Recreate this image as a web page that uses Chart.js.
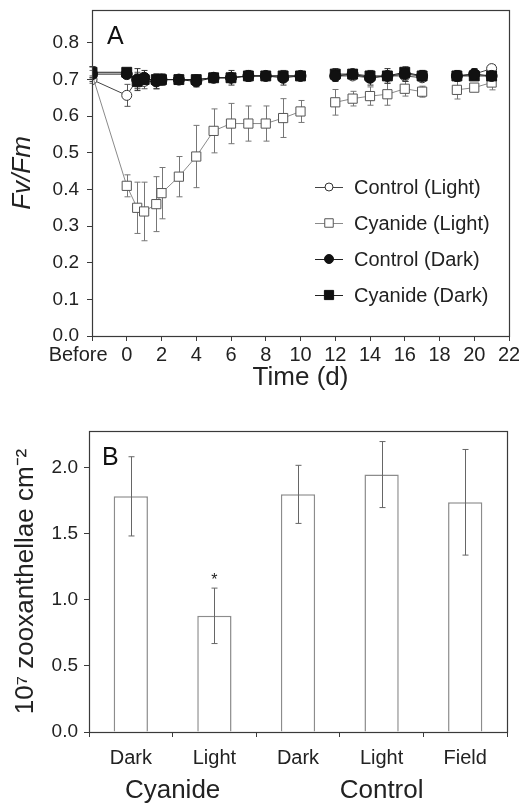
<!DOCTYPE html>
<html><head><meta charset="utf-8">
<script src="https://cdn.jsdelivr.net/npm/chart.js@4"></script>
<style>
html,body{margin:0;padding:0;background:#fff;}
#wrapA{position:absolute;left:0;top:0;width:519px;height:395px;}
#wrapB{position:absolute;left:0;top:400px;width:519px;height:405px;}
canvas{display:block;}
</style></head><body>
<div id="wrapA"><canvas id="cA" width="519" height="395"></canvas></div>
<div id="wrapB"><canvas id="cB" width="519" height="405"></canvas></div>
<script>
// ---------- Panel A data ----------
// time in days; -2 stands for "Before"; 11 and 18 are gaps (no measurements)
const timeDays = [-2, 0, 0.6, 1, 1.7, 2, 3, 4, 5, 6, 7, 8, 9, 10, 11, 12, 13, 14, 15, 16, 17, 18, 19, 20, 21];
const controlLight    = [0.700, 0.657, 0.700, 0.695, 0.695, 0.700, 0.700, 0.700, 0.705, 0.705, 0.710, 0.710, 0.710, 0.710, null, 0.710, 0.710, 0.705, 0.710, 0.710, 0.705, null, 0.710, 0.715, 0.730];
const controlLightErr = [0.010, 0.030, 0.020, 0.020, 0.020, 0.015, 0.010, 0.010, 0.010, 0.010, 0.010, 0.010, 0.010, 0.010, null, 0.010, 0.010, 0.010, 0.010, 0.010, 0.010, null, 0.010, 0.010, 0.010];
const cyanideLight    = [0.715, 0.410, 0.350, 0.340, 0.360, 0.390, 0.435, 0.490, 0.560, 0.580, 0.580, 0.580, 0.595, 0.613, null, 0.638, 0.648, 0.655, 0.660, 0.675, 0.667, null, 0.672, 0.678, 0.692];
const cyanideLightErr = [0.010, 0.030, 0.070, 0.080, 0.075, 0.070, 0.055, 0.085, 0.060, 0.055, 0.048, 0.048, 0.053, 0.030, null, 0.035, 0.020, 0.025, 0.030, 0.020, 0.015, null, 0.025, 0.010, 0.020];
const controlDark     = [0.715, 0.715, 0.700, 0.705, 0.695, 0.700, 0.700, 0.695, 0.705, 0.705, 0.710, 0.710, 0.705, 0.710, null, 0.710, 0.715, 0.705, 0.710, 0.715, 0.710, null, 0.710, 0.715, 0.710];
const controlDarkErr  = [0.020, 0.010, 0.030, 0.020, 0.020, 0.015, 0.010, 0.015, 0.010, 0.020, 0.015, 0.010, 0.020, 0.010, null, 0.015, 0.010, 0.020, 0.020, 0.020, 0.015, null, 0.015, 0.015, 0.010];
const cyanideDark     = [0.720, 0.720, 0.695, 0.700, 0.700, 0.700, 0.700, 0.700, 0.705, 0.705, 0.710, 0.710, 0.710, 0.710, null, 0.715, 0.715, 0.710, 0.710, 0.720, 0.710, null, 0.710, 0.710, 0.710];
const cyanideDarkErr  = [0.015, 0.010, 0.020, 0.015, 0.015, 0.010, 0.010, 0.010, 0.010, 0.010, 0.010, 0.010, 0.010, 0.010, null, 0.015, 0.010, 0.010, 0.010, 0.010, 0.015, null, 0.010, 0.010, 0.010];
const seriesLabelsA = ['Control (Light)', 'Cyanide (Light)', 'Control (Dark)', 'Cyanide (Dark)'];
const xTicksA = [-2, 0, 2, 4, 6, 8, 10, 12, 14, 16, 18, 20, 22];
const yTicksA = [0, 0.1, 0.2, 0.3, 0.4, 0.5, 0.6, 0.7, 0.8];

// ---------- Panel B data ----------
const treatments   = ['Dark', 'Light', 'Dark', 'Light', 'Field'];
const cellDensity  = [1.785, 0.88, 1.80, 1.95, 1.74];
const cellErr      = [0.30, 0.21, 0.22, 0.25, 0.40];
const significance = ['', '*', '', '', ''];
const groupNames   = ['Cyanide', 'Control'];
const groupSpans   = [[0, 1], [2, 4]];
const yTicksB = [0, 0.5, 1.0, 1.5, 2.0];

// ---------- styling ----------
const FONT = "'Liberation Sans', Arial, Helvetica, sans-serif";
Chart.defaults.font.family = FONT;
Chart.defaults.color = '#222';
const AXIS = '#3a3a3a';

function pts(vals){ return timeDays.map((t,i)=>({x:t, y:vals[i]})); }

function drawErrors(chart, phase){
  const ctx = chart.ctx;
  chart.data.datasets.forEach((ds, di)=>{
    if(!ds.errors || (ds.errorPhase||'before') !== phase) return;
    const meta = chart.getDatasetMeta(di);
    const ys = chart.scales[meta.yAxisID];
    const cap = ds.errorCap || 3;
    ctx.save();
    ctx.strokeStyle = ds.errorColor || '#555';
    ctx.lineWidth = 1;
    ctx.beginPath();
    meta.data.forEach((el, i)=>{
      const d = ds.data[i];
      const v = (d !== null && typeof d === 'object') ? d.y : d;
      const e = ds.errors[i];
      if(v == null || e == null) return;
      const x = Math.round(el.x) + 0.5;
      const yt = ys.getPixelForValue(v + e), yb = ys.getPixelForValue(v - e);
      ctx.moveTo(x, yt); ctx.lineTo(x, yb);
      ctx.moveTo(x - cap, yt); ctx.lineTo(x + cap, yt);
      ctx.moveTo(x - cap, yb); ctx.lineTo(x + cap, yb);
    });
    ctx.stroke();
    ctx.restore();
  });
}
const errorBarPlugin = {
  id: 'errorBars',
  beforeDatasetsDraw(chart){ drawErrors(chart, 'before'); },
  afterDatasetsDraw(chart){ drawErrors(chart, 'after'); }
};
const boxPlugin = {
  id: 'box',
  afterDraw(chart){
    const a = chart.chartArea, ctx = chart.ctx;
    ctx.save(); ctx.strokeStyle = AXIS; ctx.lineWidth = 1.2;
    ctx.strokeRect(Math.round(a.left)+0.5, Math.round(a.top)+0.5, Math.round(a.right-a.left), Math.round(a.bottom-a.top));
    ctx.restore();
  }
};
function letterPlugin(letter, dx, dy){
  return { id: 'letter'+letter, afterDraw(chart){
    const a = chart.chartArea, ctx = chart.ctx;
    ctx.save(); ctx.fillStyle = '#111'; ctx.font = '25px ' + FONT;
    ctx.textAlign = 'left'; ctx.textBaseline = 'alphabetic';
    ctx.fillText(letter, a.left + dx, a.top + dy);
    ctx.restore();
  }};
}
const legendPluginA = {
  id: 'insideLegend',
  afterDraw(chart){
    const a = chart.chartArea, ctx = chart.ctx;
    const x0 = a.left + 223, rowH = 36, y0 = a.top + 177;
    ctx.save();
    chart.data.datasets.forEach((ds, i)=>{
      const y = y0 + i*rowH;
      ctx.strokeStyle = ds.borderColor; ctx.lineWidth = 1;
      ctx.beginPath(); ctx.moveTo(x0, y+0.5); ctx.lineTo(x0+28, y+0.5); ctx.stroke();
      ctx.fillStyle = ds.pointBackgroundColor; ctx.strokeStyle = ds.pointBorderColor;
      Chart.helpers.drawPoint(ctx, {pointStyle: ds.pointStyle, radius: ds.legendRadius, borderWidth: 1, rotation: 0}, x0+14, y);
      ctx.fillStyle = '#222'; ctx.font = '20px ' + FONT;
      ctx.textAlign = 'left'; ctx.textBaseline = 'middle';
      ctx.fillText(ds.label, x0 + 39, y + 1);
    });
    ctx.restore();
  }
};

new Chart(document.getElementById('cA'), {
  type: 'line',
  data: { datasets: [
    { label: seriesLabelsA[0], data: pts(controlLight), errors: controlLightErr, errorColor: '#555',
      borderColor: '#444', pointStyle: 'circle', pointRadius: 5, legendRadius: 4,
      pointBackgroundColor: '#fff', pointBorderColor: '#333', order: 4 },
    { label: seriesLabelsA[1], data: pts(cyanideLight), errors: cyanideLightErr, errorColor: '#777',
      borderColor: '#8a8a8a', pointStyle: 'rect', pointRadius: 6.5, legendRadius: 6,
      pointBackgroundColor: '#fff', pointBorderColor: '#555', order: 3 },
    { label: seriesLabelsA[2], data: pts(controlDark), errors: controlDarkErr, errorColor: '#333',
      borderColor: '#222', pointStyle: 'circle', pointRadius: 5.5, legendRadius: 4.5,
      pointBackgroundColor: '#111', pointBorderColor: '#111', order: 1 },
    { label: seriesLabelsA[3], data: pts(cyanideDark), errors: cyanideDarkErr, errorColor: '#333',
      borderColor: '#222', pointStyle: 'rect', pointRadius: 7, legendRadius: 6.5,
      pointBackgroundColor: '#111', pointBorderColor: '#111', order: 2 }
  ]},
  options: {
    responsive: false, animation: false, spanGaps: false,
    layout: { padding: { left: 0, right: 10, top: 10, bottom: 0 } },
    plugins: { legend: { display: false }, tooltip: { enabled: false } },
    elements: { line: { borderWidth: 1, tension: 0 }, point: { borderWidth: 1 } },
    scales: {
      x: { type: 'linear', min: -2, max: 22,
        afterBuildTicks: s => { s.ticks = xTicksA.map(v => ({ value: v })); },
        afterFit: s => { s.height = 59; s.paddingLeft = 0; s.paddingRight = 0; },
        ticks: { callback: v => v === -2 ? 'Before' + '\u00a0'.repeat(5) : String(v),
                 font: { size: 20 }, padding: 2, color: '#222', maxRotation: 0, autoSkip: false },
        grid: { drawOnChartArea: false, tickLength: 5, color: AXIS },
        border: { color: AXIS },
        title: { display: true, text: 'Time (d)', font: { size: 26 }, color: '#222', padding: { top: 0, bottom: 2 } } },
      y: { min: 0, max: 0.89,
        afterBuildTicks: s => { s.ticks = yTicksA.map(v => ({ value: v })); },
        afterFit: s => { s.width = 92; s.paddingTop = 0; s.paddingBottom = 0; },
        ticks: { callback: v => v.toFixed(1), font: { size: 19 }, padding: 8, color: '#222' },
        grid: { drawOnChartArea: false, tickLength: 5, color: AXIS },
        border: { color: AXIS },
        title: { display: true, text: 'Fv/Fm', font: { size: 26, style: 'italic' }, color: '#222', padding: { top: 7, bottom: 0 } } }
    }
  },
  plugins: [errorBarPlugin, boxPlugin, legendPluginA, letterPlugin('A', 15, 34)]
});

const starPlugin = {
  id: 'stars',
  afterDatasetsDraw(chart){
    const ds = chart.data.datasets[0], meta = chart.getDatasetMeta(0), ys = chart.scales.y, ctx = chart.ctx;
    ctx.save(); ctx.fillStyle = '#222'; ctx.font = '16px ' + FONT; ctx.textAlign = 'center'; ctx.textBaseline = 'alphabetic';
    meta.data.forEach((el, i)=>{
      if(!significance[i]) return;
      ctx.fillText(significance[i], el.x, ys.getPixelForValue(ds.data[i] + ds.errors[i]) - 3);
    });
    ctx.restore();
  }
};

new Chart(document.getElementById('cB'), {
  type: 'bar',
  data: { labels: treatments, datasets: [
    { data: cellDensity, errors: cellErr, errorColor: '#666', errorPhase: 'after', errorCap: 3,
      backgroundColor: '#fff', borderColor: '#8c8c8c', borderWidth: 1.5,
      barPercentage: 0.41, categoryPercentage: 1.0 }
  ]},
  options: {
    responsive: false, animation: false,
    layout: { padding: { left: 0, right: 12, top: 31, bottom: 0 } },
    plugins: { legend: { display: false }, tooltip: { enabled: false } },
    scales: {
      x: { position: 'bottom',
        afterFit: s => { s.height = 40; s.paddingLeft = 0; s.paddingRight = 0; },
        ticks: { font: { size: 20 }, padding: 9, color: '#222', maxRotation: 0 },
        grid: { offset: true, drawOnChartArea: false, tickLength: 5, color: AXIS },
        border: { color: AXIS } },
      group: { type: 'linear', position: 'bottom', offset: false, min: -0.5, max: treatments.length - 0.5,
        afterBuildTicks: s => { s.ticks = groupSpans.map(g => ({ value: (g[0] + g[1]) / 2 })); },
        afterFit: s => { s.height = 33; s.paddingLeft = 0; s.paddingRight = 0; },
        ticks: { callback: (v, i) => groupNames[i], font: { size: 26 }, padding: 3, color: '#222', maxRotation: 0, autoSkip: false },
        grid: { display: false, drawTicks: false }, border: { display: false } },
      y: { min: 0, max: 2.28,
        afterBuildTicks: s => { s.ticks = yTicksB.map(v => ({ value: v })); },
        afterFit: s => { s.width = 89; s.paddingTop = 0; s.paddingBottom = 0; },
        ticks: { callback: v => v.toFixed(1), font: { size: 19 }, padding: 6, color: '#222' },
        grid: { drawOnChartArea: false, tickLength: 5, color: AXIS },
        border: { color: AXIS },
        title: { display: true, text: '10\u2077 zooxanthellae cm\u207b\u00b2', font: { size: 26 }, color: '#222', padding: { top: 10, bottom: 0 } } }
    }
  },
  plugins: [errorBarPlugin, boxPlugin, starPlugin, letterPlugin('B', 13, 34)]
});
</script>
</body></html>
